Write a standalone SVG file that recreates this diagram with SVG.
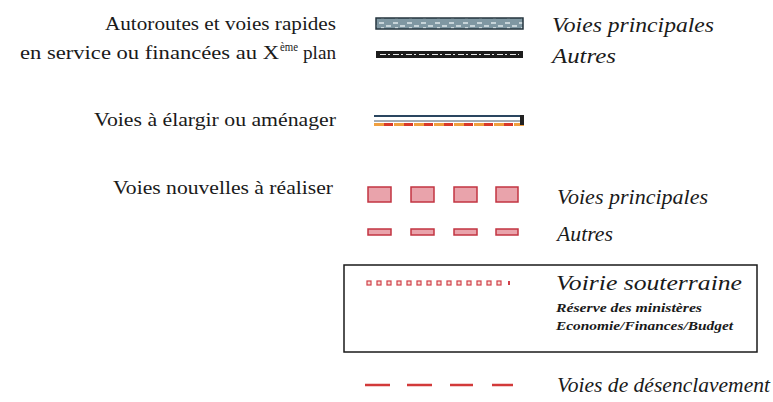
<svg xmlns="http://www.w3.org/2000/svg" width="773" height="402" viewBox="0 0 773 402">
<style>
.lbl{font-family:"Liberation Serif","Times New Roman",serif;font-size:19px;fill:#1a1a1a}
.sup{font-family:"Liberation Serif","Times New Roman",serif;font-size:12px;fill:#1a1a1a}
.it{font-family:"Liberation Serif","Times New Roman",serif;font-style:italic;font-size:20px;fill:#1a1a1a}
.sm{font-family:"Liberation Serif","Times New Roman",serif;font-style:italic;font-weight:bold;font-size:13px;fill:#1a1a1a}
.red{fill:#e9a3ab;stroke:#c23542;stroke-width:1.5}
.sq{fill:#fbe0d8;stroke:#d0404a;stroke-width:1.2}
.dash{stroke:#d23a3a;stroke-width:2.5}
</style>
<defs>
<pattern id="tex" width="14" height="10" patternUnits="userSpaceOnUse">
<rect width="14" height="10" fill="#7f97a2"/>
<path d="M1 3h5M8 6h5M3 8h3" stroke="#dfe8ec" stroke-width="1.5"/>
</pattern>
</defs>
<rect width="773" height="402" fill="#ffffff"/>

<g id="legend-autoroutes">
<text class="lbl" x="105" y="30" textLength="231" lengthAdjust="spacingAndGlyphs">Autoroutes et voies rapides</text>
<text class="lbl" x="20" y="59" textLength="259" lengthAdjust="spacingAndGlyphs">en service ou financées au X</text>
<text class="sup" x="280" y="51" textLength="18" lengthAdjust="spacingAndGlyphs">ème</text>
<text class="lbl" x="303" y="59" textLength="33" lengthAdjust="spacingAndGlyphs">plan</text>
</g>

<g id="bar-principales">
<rect x="376" y="18" width="147" height="11" fill="url(#tex)" stroke="#24343e" stroke-width="1.5"/>
<text class="it" x="552" y="32" textLength="162" lengthAdjust="spacingAndGlyphs">Voies principales</text>
</g>

<g id="bar-autres">
<rect x="376" y="51" width="147" height="7" fill="#1c1c1c"/>
<line x1="380" y1="54.5" x2="519" y2="54.5" stroke="#e8e8e8" stroke-width="1" stroke-dasharray="6 2 2 3"/>
<text class="it" x="552" y="63" textLength="64" lengthAdjust="spacingAndGlyphs">Autres</text>
</g>

<g id="legend-elargir">
<text class="lbl" x="94" y="126" textLength="242" lengthAdjust="spacingAndGlyphs">Voies à élargir ou aménager</text>
<line x1="374" y1="116" x2="524" y2="116" stroke="#2a4660" stroke-width="2"/>
<line x1="374" y1="121" x2="524" y2="121" stroke="#4a5a6a" stroke-width="1"/>
<line x1="374" y1="124.5" x2="524" y2="124.5" stroke="#f0a040" stroke-width="3" stroke-dasharray="10 10"/>
<line x1="384" y1="124.5" x2="524" y2="124.5" stroke="#d83a2a" stroke-width="3" stroke-dasharray="9 11"/>
<rect x="520" y="115" width="4" height="10" fill="#222"/>
</g>

<g id="legend-nouvelles">
<text class="lbl" x="113" y="194" textLength="220" lengthAdjust="spacingAndGlyphs">Voies nouvelles à réaliser</text>
<rect class="red" x="368" y="187" width="23" height="15"/>
<rect class="red" x="411" y="187" width="23" height="15"/>
<rect class="red" x="454" y="187" width="23" height="15"/>
<rect class="red" x="496" y="187" width="22" height="15"/>
<text class="it" x="557" y="204" textLength="151" lengthAdjust="spacingAndGlyphs">Voies principales</text>
<rect class="red" x="368" y="229" width="23" height="6"/>
<rect class="red" x="411" y="229" width="23" height="6"/>
<rect class="red" x="454" y="229" width="23" height="6"/>
<rect class="red" x="496" y="229" width="22" height="6"/>
<text class="it" x="557" y="241" textLength="56" lengthAdjust="spacingAndGlyphs">Autres</text>
</g>

<g id="legend-souterraine">
<rect x="344" y="265" width="413" height="87" fill="none" stroke="#1a1a1a" stroke-width="1.5"/>
<g>
<rect class="sq" x="367" y="281" width="4" height="4"/>
<rect class="sq" x="377" y="281" width="4" height="4"/>
<rect class="sq" x="387" y="281" width="4" height="4"/>
<rect class="sq" x="397" y="281" width="4" height="4"/>
<rect class="sq" x="407" y="281" width="4" height="4"/>
<rect class="sq" x="417" y="281" width="4" height="4"/>
<rect class="sq" x="427" y="281" width="4" height="4"/>
<rect class="sq" x="437" y="281" width="4" height="4"/>
<rect class="sq" x="447" y="281" width="4" height="4"/>
<rect class="sq" x="457" y="281" width="4" height="4"/>
<rect class="sq" x="467" y="281" width="4" height="4"/>
<rect class="sq" x="477" y="281" width="4" height="4"/>
<rect class="sq" x="487" y="281" width="4" height="4"/>
<rect class="sq" x="497" y="281" width="4" height="4"/>
<rect x="508" y="281" width="2" height="4" fill="#d0404a"/>
</g>
<text class="it" x="556" y="290" style="font-size:21px" textLength="186" lengthAdjust="spacingAndGlyphs">Voirie souterraine</text>
<text class="sm" x="556" y="312" textLength="146" lengthAdjust="spacingAndGlyphs">Réserve des ministères</text>
<text class="sm" x="556" y="330" textLength="177" lengthAdjust="spacingAndGlyphs">Economie/Finances/Budget</text>
</g>

<g id="legend-desenclavement">
<line class="dash" x1="365" y1="385" x2="390" y2="385"/>
<line class="dash" x1="407" y1="385" x2="432" y2="385"/>
<line class="dash" x1="450" y1="385" x2="473" y2="385"/>
<line class="dash" x1="492" y1="385" x2="513" y2="385"/>
<text class="it" x="557" y="392" textLength="213" lengthAdjust="spacingAndGlyphs">Voies de désenclavement</text>
</g>
</svg>
